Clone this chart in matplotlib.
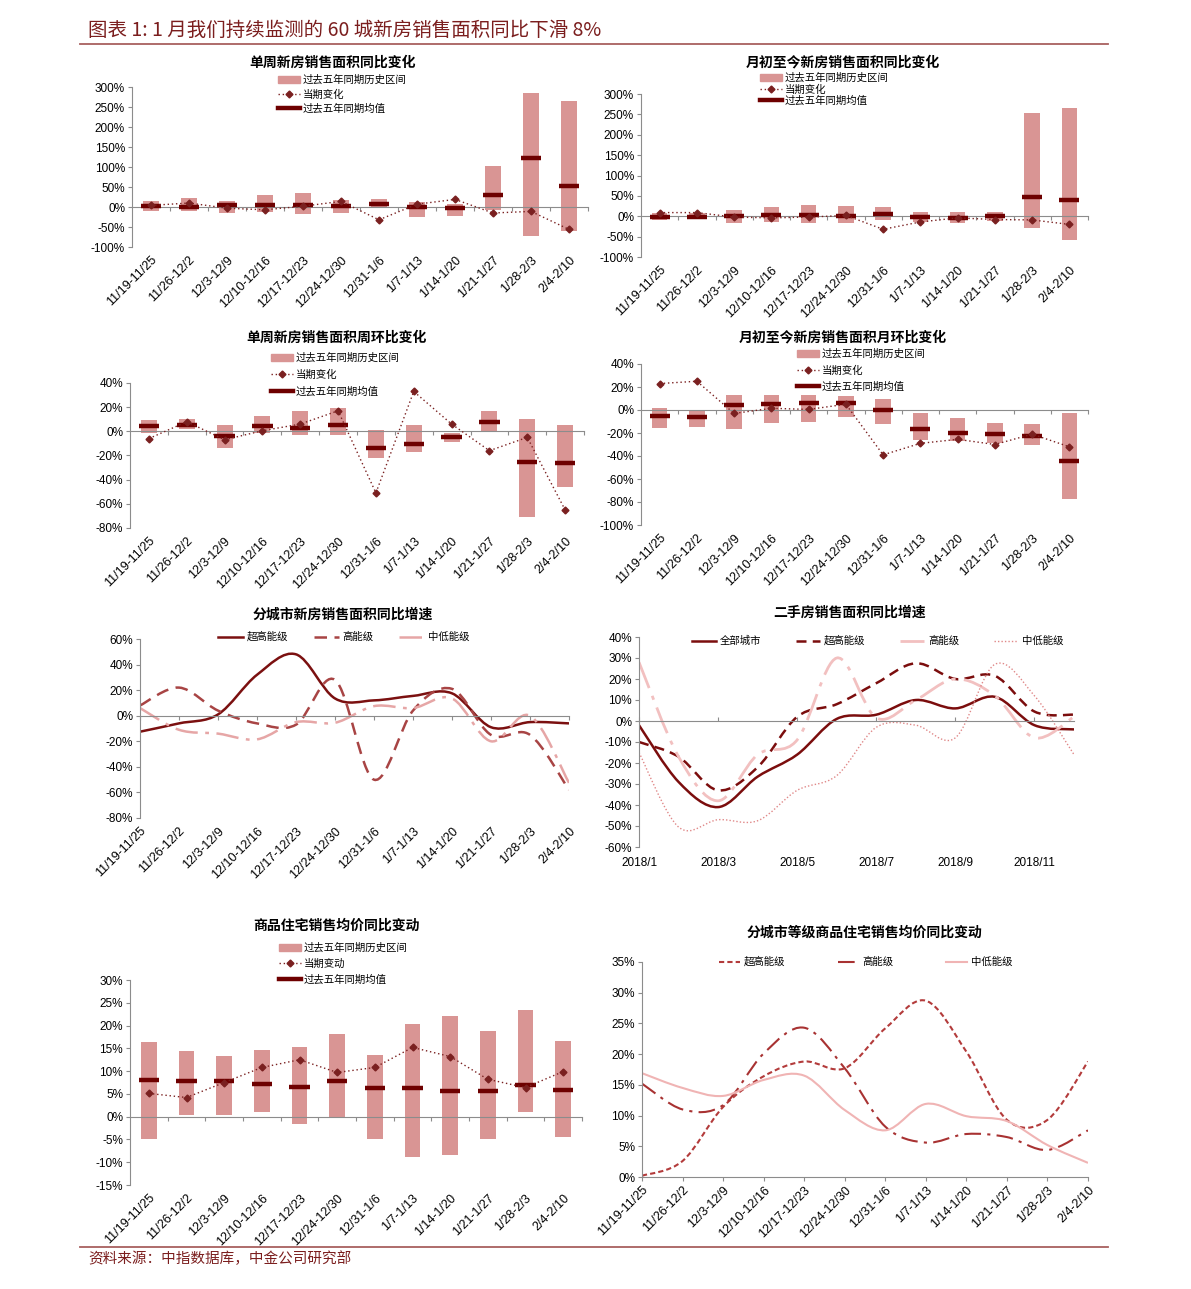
import numpy as np
import matplotlib
matplotlib.use('Agg')
import matplotlib.pyplot as plt
from matplotlib.path import Path
from matplotlib.patches import PathPatch, Patch
from matplotlib.lines import Line2D

# ---- data ----
cats = ['11/19-11/25', '11/26-12/2', '12/3-12/9', '12/10-12/16', '12/17-12/23',
        '12/24-12/30', '12/31-1/6', '1/7-1/13', '1/14-1/20', '1/21-1/27',
        '1/28-2/3', '2/4-2/10']

# single week new-home area yoy
p1_low = [-11, -11, -15, -12, -18, -15, -3, -24, -23, -8, -73, -60]
p1_high = [14, 22, 14, 31, 35, 18, 19, 12, 8, 103, 285, 266]
p1_mean = [2, 0, 4, 6, 6, 2, 8, -1, -3, 30, 122, 52]
p1_cur = [4, 10, -3, -7, 2, 14, -32, 7, 19, -15, -11, -56]

# month-to-date new-home area yoy
p2_low = [-8, -7, -16, -14, -16, -16, -10, -14, -16, -12, -29, -59]
p2_high = [7, 7, 15, 22, 27, 25, 23, 11, 10, 11, 254, 266]
p2_mean = [-1, -1, 1, 2, 2, 1, 5, -3, -4, 0, 48, 40]
p2_cur = [9, 9, -2, -4, -2, 2, -32, -14, -4, -8, -9, -20]

# single week new-home area wow
p3_low = [-1, 2, -14, -1, -3, -3, -22, -17, -9, 0, -71, -46]
p3_high = [9, 10, 5, 13, 17, 19, 1, 5, -1, 17, 10, 5]
p3_mean = [4, 5, -4, 4, 3, 5, -14, -10.5, -5, 8, -25, -26]
p3_cur = [-6, 8, -7, 0.5, 6, 17, -51, 33, 6, -16, -5, -65]

# month-to-date new-home area mom
p4_low = [-16, -15, -16.5, -11.5, -10, -6, -12.5, -26, -27, -28.5, -30, -77.5]
p4_high = [2, 0, 13, 13, 13, 12, 9.5, -3, -7, -11, -12, -3]
p4_mean = [-5, -6, 4, 5, 6, 6, 0, -16.5, -20, -21, -23, -44]
p4_cur = [23, 25, -3, 1.5, 0.5, 5, -39, -29, -25.5, -30, -21, -32]

# new-home area yoy by city tier
p5_top = [-12.5, -6, 1, 32, 48, 13.5, 12, 15.5, 17.5, -9, -5, -6]
p5_high = [8, 22, 4, -6, -7, 28, -50, 4, 21, -15, -15, -58]
p5_low = [6, -11, -14, -18.5, -5, -5.5, 7.5, 6, 13.5, -20, 0, -52.5]

# second-hand area yoy, 2018 monthly
months = ['2018/1', '2018/2', '2018/3', '2018/4', '2018/5', '2018/6',
          '2018/7', '2018/8', '2018/9', '2018/10', '2018/11', '2018/12']
p6_all = [-2, -29, -41, -26.5, -16, 1, 3, 10, 6, 11.5, -2, -4]
p6_top = [-10, -17, -33, -22, 2, 8, 18, 27.5, 20, 21.5, 4.5, 3]
p6_high = [28, -17, -38, -16, -9, 30, 1.5, 10, 20, 12, -8, 2]
p6_low = [-15, -50.5, -47, -47.5, -33, -26, -3, -2, -8, 27, 12, -16]

# residential price yoy
p7_low = [-4.9, 0.4, 0.3, 1.1, -1.5, 0, -4.8, -8.8, -8.5, -5, 1, -4.5]
p7_high = [16.5, 14.5, 13.3, 14.6, 15.4, 18.1, 13.6, 20.4, 22.1, 18.7, 23.5, 16.7]
p7_mean = [8, 7.8, 7.9, 7.1, 6.5, 7.9, 6.4, 6.2, 5.7, 5.6, 6.9, 5.9]
p7_cur = [5.1, 4.2, 7.5, 10.8, 12.5, 9.7, 10.8, 15.2, 13.2, 8.2, 6.4, 9.9]

# residential price yoy by city tier
p8_top = [0.2, 2.6, 11.4, 16.4, 18.8, 17.7, 24.2, 28.7, 20.4, 9.3, 9.3, 18.8]
p8_high = [15.2, 11, 11.7, 20.1, 24.3, 17.7, 8.2, 5.6, 7, 6.5, 4.4, 7.6]
p8_low = [16.9, 14.5, 13.2, 15.8, 16.5, 10.9, 7.6, 11.9, 9.9, 9.1, 5.2, 2.3]

# ---- style ----
W, H = 1191, 1289
plt.rcParams['font.family'] = ['Liberation Sans', 'Noto Sans CJK SC']
plt.rcParams['axes.unicode_minus'] = False

BAR = '#d99594'
DARK = '#6e0000'
CUR = '#7a2020'
GRAY = '#8c8c8c'
RED = '#7b1e1e'
CJK = ['Noto Sans CJK SC', 'DejaVu Sans']

fig = plt.figure(figsize=(W / 100, H / 100), dpi=100)


def px(l, t, r, b):
    return [l / W, 1 - b / H, (r - l) / W, (b - t) / H]


def smooth(x, y):
    # excel-like smoothed line, as bezier segments through the data points
    n = len(x)
    verts = [(x[0], y[0])]
    codes = [Path.MOVETO]
    for i in range(n - 1):
        a = max(i - 1, 0)
        d = min(i + 2, n - 1)
        c1 = (x[i] + (x[i + 1] - x[a]) / 6, y[i] + (y[i + 1] - y[a]) / 6)
        c2 = (x[i + 1] - (x[d] - x[i]) / 6, y[i + 1] - (y[d] - y[i]) / 6)
        verts += [c1, c2, (x[i + 1], y[i + 1])]
        codes += [Path.CURVE4] * 3
    return Path(verts, codes)


def style_y(ax, ylim, step):
    ticks = np.arange(ylim[0], ylim[1] + 1, step)
    ax.set_ylim(*ylim)
    ax.set_yticks(ticks)
    ax.set_yticklabels([f'{t}%' for t in ticks])
    ax.tick_params(axis='y', length=3, width=0.8, color=GRAY, labelsize=8.5, pad=2)
    for s in ['top', 'right']:
        ax.spines[s].set_visible(False)
    ax.spines['left'].set_color(GRAY)
    ax.spines['bottom'].set_color(GRAY)


def cat_labels(ax, pos, labels, rot=45, pad=5):
    sec = ax.secondary_xaxis('bottom')
    sec.spines['bottom'].set_visible(False)
    sec.set_xticks(pos)
    if rot:
        sec.set_xticklabels(labels, rotation=rot, ha='right', rotation_mode='anchor', fontsize=9)
    else:
        sec.set_xticklabels(labels, fontsize=8.5)
    sec.tick_params(length=0, pad=pad)
    return sec


def title(xc, yc, s):
    fig.text(xc / W, 1 - yc / H, s, ha='center', va='center', fontsize=10,
             fontweight='bold', family=CJK)


def bar_panel(rect, low, high, mean, cur, ylim, step, ttl, txy, lxy, cur_lab, lsp):
    ax = fig.add_axes(px(*rect))
    x = np.arange(len(cats))
    lo = np.array(low)
    hi = np.array(high)
    ax.bar(x, hi - lo, bottom=lo, width=0.42, color=BAR, zorder=1)
    ax.hlines(mean, x - 0.27, x + 0.27, color=DARK, lw=3.2, zorder=3)
    ax.plot(x, cur, ls=(0, (1, 2)), color=CUR, lw=1, marker='D', ms=3.5, zorder=4)
    ax.set_xlim(-0.5, 11.5)
    style_y(ax, ylim, step)
    ax.spines['bottom'].set_position(('data', 0))
    ax.set_xticks(x + 0.5)
    ax.set_xticklabels([])
    ax.tick_params(axis='x', length=3, color=GRAY, direction='out')
    cat_labels(ax, x, cats)
    title(txy[0], txy[1], ttl)
    handles = [Patch(color=BAR),
               Line2D([], [], ls=(0, (1, 2)), color=CUR, marker='D', ms=3.5, lw=1),
               Line2D([], [], color=DARK, lw=3.2)]
    fig.legend(handles, ['过去五年同期历史区间', cur_lab, '过去五年同期均值'],
               loc='upper left', bbox_to_anchor=(lxy[0] / W, 1 - lxy[1] / H),
               frameon=False, borderaxespad=0, borderpad=0,
               handlelength=2.1, handletextpad=0.3, labelspacing=lsp,
               prop={'family': CJK, 'size': 7.5})
    return ax


bar_panel((132, 87, 588, 247), p1_low, p1_high, p1_mean, p1_cur, (-100, 300), 50,
          '单周新房销售面积同比变化', (333, 63), (278, 75), '当期变化', 0.38)
bar_panel((641, 94, 1088, 257), p2_low, p2_high, p2_mean, p2_cur, (-100, 300), 50,
          '月初至今新房销售面积同比变化', (843, 62), (760, 73), '当期变化', 0.1)
bar_panel((130, 383, 584, 528), p3_low, p3_high, p3_mean, p3_cur, (-80, 40), 20,
          '单周新房销售面积周环比变化', (337, 338), (271, 353), '当期变化', 0.62)
bar_panel((641, 364, 1088, 525), p4_low, p4_high, p4_mean, p4_cur, (-100, 40), 20,
          '月初至今新房销售面积月环比变化', (843, 337), (797, 349), '当期变化', 0.58)
bar_panel((130, 980, 582, 1185), p7_low, p7_high, p7_mean, p7_cur, (-15, 30), 5,
          '商品住宅销售均价同比变动', (337, 926), (279, 943), '当期变动', 0.53)

# ---- panel 5: new-home area yoy by tier ----
ax5 = fig.add_axes(px(140, 639, 569, 818))
x = np.arange(len(cats))
p5_styles = [(p5_top, '超高能级', '#7b1010', '-', 1.8),
             (p5_high, '高能级', '#a84444', (0, (5, 3)), 1.8),
             (p5_low, '中低能级', '#e6a6a6', (0, (9, 3, 1.5, 3)), 1.8)]
for y, lab, c, ls, lw in p5_styles:
    ax5.add_patch(PathPatch(smooth(x, y), fill=False, ec=c, ls=ls, lw=lw))
ax5.set_xlim(0, 11)
style_y(ax5, (-80, 60), 20)
ax5.spines['bottom'].set_position(('data', 0))
ax5.set_xticks(x)
ax5.set_xticklabels([])
ax5.tick_params(axis='x', length=3, color=GRAY)
cat_labels(ax5, x, cats)
title(343, 615, '分城市新房销售面积同比增速')
fig.legend([Line2D([], [], color=c, ls=ls, lw=lw) for _, _, c, ls, lw in p5_styles],
           [s[1] for s in p5_styles], ncol=3, loc='center left',
           bbox_to_anchor=(218 / W, 1 - 637 / H), frameon=False, borderaxespad=0,
           borderpad=0, handlelength=2.4, handletextpad=0.4, columnspacing=2.4,
           prop={'family': CJK, 'size': 7.5})

# ---- panel 6: second-hand area yoy ----
ax6 = fig.add_axes(px(639, 637, 1074, 847))
xm = np.arange(len(months))
p6_styles = [(p6_all, '全部城市', '#7b0d0d', '-', 1.8),
             (p6_top, '超高能级', '#7b0d0d', (0, (4, 2.5)), 1.8),
             (p6_high, '高能级', '#f2c0c0', (0, (10, 3, 1.5, 3)), 2.0),
             (p6_low, '中低能级', '#e08888', (0, (1, 1.5)), 1.0)]
for y, lab, c, ls, lw in p6_styles:
    ax6.add_patch(PathPatch(smooth(xm, y), fill=False, ec=c, ls=ls, lw=lw))
ax6.set_xlim(0, 11)
style_y(ax6, (-60, 40), 10)
ax6.spines['bottom'].set_position(('data', 0))
ax6.set_xticks(xm[::2])
ax6.set_xticklabels([])
ax6.tick_params(axis='x', length=3, color=GRAY, direction='in')
cat_labels(ax6, xm[::2], months[::2], rot=0, pad=7)
title(850, 613, '二手房销售面积同比增速')
fig.legend([Line2D([], [], color=c, ls=ls, lw=lw) for _, _, c, ls, lw in p6_styles],
           [s[1] for s in p6_styles], ncol=4, loc='center left',
           bbox_to_anchor=(692 / W, 1 - 641 / H), frameon=False, borderaxespad=0,
           borderpad=0, handlelength=2.3, handletextpad=0.4, columnspacing=3.3,
           prop={'family': CJK, 'size': 7.5})

# ---- panel 8: price yoy by tier ----
ax8 = fig.add_axes(px(642, 962, 1088, 1177))
p8_styles = [(p8_top, '超高能级', '#b33b3b', (0, (2.5, 1.5)), 1.5),
             (p8_high, '高能级', '#a83232', (0, (8, 3, 1.5, 3)), 1.5),
             (p8_low, '中低能级', '#f0b4b4', '-', 1.5)]
for y, lab, c, ls, lw in p8_styles:
    ax8.add_patch(PathPatch(smooth(x, y), fill=False, ec=c, ls=ls, lw=lw))
ax8.set_xlim(0, 11)
style_y(ax8, (0, 35), 5)
ax8.set_xticks(x)
ax8.set_xticklabels([])
ax8.tick_params(axis='x', length=3, color=GRAY)
cat_labels(ax8, x, cats)
title(865, 933, '分城市等级商品住宅销售均价同比变动')
fig.legend([Line2D([], [], color=c, ls=ls, lw=lw) for _, _, c, ls, lw in p8_styles],
           [s[1] for s in p8_styles], ncol=3, loc='center left',
           bbox_to_anchor=(719 / W, 1 - 962 / H), frameon=False, borderaxespad=0,
           borderpad=0, handlelength=2.0, handletextpad=0.4, columnspacing=5.0,
           prop={'family': CJK, 'size': 7.5})

# ---- header / footer ----
fig.text(88 / W, 1 - 30 / H, '图表 1: 1 月我们持续监测的 60 城新房销售面积同比下滑 8%',
         fontsize=14, color=RED, style='italic', va='center', family=CJK)
fig.add_artist(Line2D([80 / W, 1108 / W], [1 - 44 / H] * 2, color='#a8605f', lw=1.3))
fig.add_artist(Line2D([80 / W, 1108 / W], [1 - 1247 / H] * 2, color='#a8605f', lw=1.3))
fig.text(88 / W, 1 - 1259 / H, '资料来源：中指数据库，中金公司研究部', fontsize=10.5,
         color=RED, style='italic', va='center', family=CJK)

fig.savefig('out.png', dpi=100, facecolor='white')
